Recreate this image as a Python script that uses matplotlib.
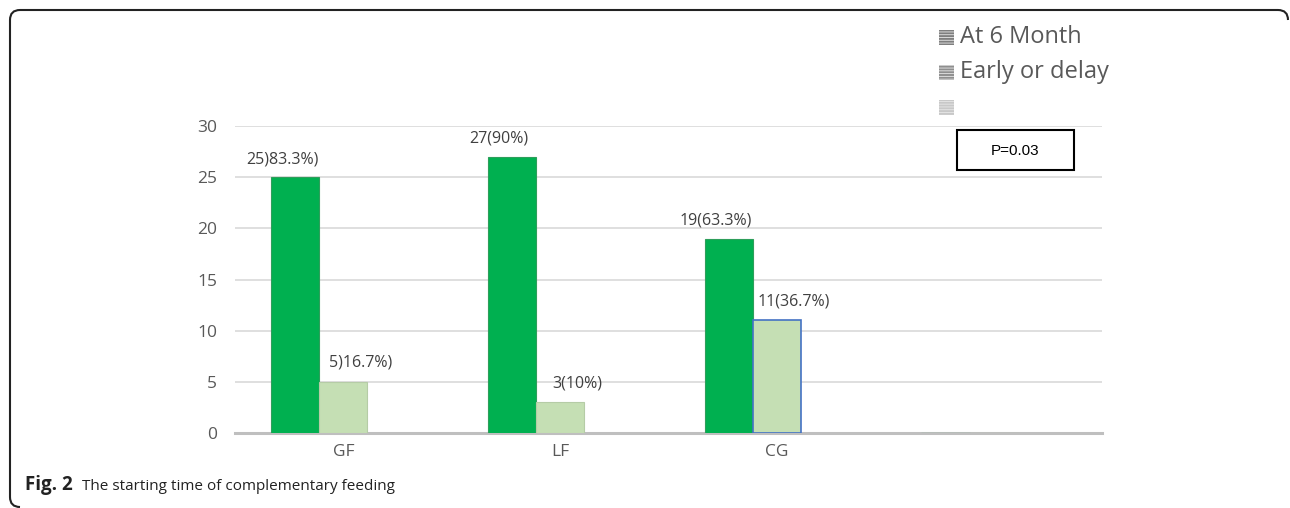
import matplotlib
matplotlib.use('Agg')
import matplotlib.pyplot as plt
import matplotlib.patches as mpatches
from matplotlib.path import Path
import numpy as np

plt.rcParams['font.family'] = ['Open Sans', 'DejaVu Sans']
plt.rcParams['hatch.linewidth'] = 0.6

categories = ['GF', 'LF', 'CG', '']
at_6_month = [25, 27, 19, 0]
early_or_delay = [5, 3, 11, 0]
third_series = [0, 0, 0, 0]
labels_6 = ['25)83.3%)', '27(90%)', '19(63.3%)']
labels_ed = ['5)16.7%)', '3(10%)', '11(36.7%)']
legend_names = ['At 6 Month', 'Early or delay', '']
p_text = 'P=0.03'

W, H = 1290, 508
fig = plt.figure(figsize=(W / 100, H / 100), dpi=100)

ax = fig.add_axes([235 / W, 1 - 433 / H, 867 / W, (433 - 126) / H])
x = np.arange(len(categories))
w = 0.222

green = '#00B050'
light = '#C5DFB4'
b1 = ax.bar(x - w, at_6_month, w, color=green, edgecolor='#2E9E5B', linewidth=0.8, zorder=3)
b2 = ax.bar(x, early_or_delay, w, color=light, edgecolor='#B5CCA6', linewidth=0.8, zorder=3)
ax.bar(x + w, third_series, w, color='none', zorder=3)
# CG bar has a blue outline in the source
b2[2].set_edgecolor('#4472C4')
b2[2].set_linewidth(1.2)

# labels were nudged sideways in the original
for i, t in enumerate(labels_6):
    ax.annotate(t, (x[i] - w, at_6_month[i]), xytext=(-13, 10), textcoords='offset pixels',
                ha='center', va='bottom', fontsize=11.5, color='#404040')
for i, t in enumerate(labels_ed):
    ax.annotate(t, (x[i], early_or_delay[i]), xytext=(17, 11), textcoords='offset pixels',
                ha='center', va='bottom', fontsize=11.5, color='#404040')

ax.set_xlim(-0.5, len(categories) - 0.5)
ax.set_ylim(0, 30)
ax.set_yticks(range(0, 31, 5))
ax.set_xticks(x)
ax.set_xticklabels(categories)
ax.yaxis.grid(True, color='#D9D9D9', linewidth=1.2, zorder=0)
ax.set_axisbelow(True)
for s in ['top', 'right', 'left']:
    ax.spines[s].set_visible(False)
ax.spines['bottom'].set_color('#BFBFBF')
ax.spines['bottom'].set_linewidth(2.2)
ax.tick_params(axis='both', length=0, labelsize=12.5, colors='#595959')
ax.tick_params(axis='y', pad=13)
ax.tick_params(axis='x', pad=8)

# overlay in pixel coords for legend, p-value box, border and caption
ov = fig.add_axes([0, 0, 1, 1], zorder=5)
ov.set_xlim(0, W)
ov.set_ylim(H, 0)
ov.axis('off')
ov.patch.set_alpha(0)

leg_colors = ['#7F7F7F', '#8F8F8F', '#C8C8C8']
for i, (name, c) in enumerate(zip(legend_names, leg_colors)):
    yc = 37 + i * 35
    ov.add_patch(mpatches.Rectangle((939, yc - 7.5), 15, 15, facecolor=c, edgecolor='#E8E8E8',
                                    hatch='------', linewidth=0))
    ov.text(960, yc, name, fontsize=17, color='#595959', va='center', ha='left')

ov.add_patch(mpatches.Rectangle((957, 130), 117, 40, facecolor='white', edgecolor='black',
                                linewidth=1.5))
ov.text(1015.5, 151, p_text, fontsize=11, ha='center', va='center', color='black',
        family='Liberation Sans')

# rounded frame (top and left sides)
verts = [(1288, 20), (1288, 10), (1278, 10), (20, 10), (10, 10), (10, 20),
         (10, 497), (10, 507), (20, 507)]
codes = [Path.MOVETO, Path.CURVE3, Path.CURVE3, Path.LINETO, Path.CURVE3, Path.CURVE3,
         Path.LINETO, Path.CURVE3, Path.CURVE3]
ov.add_patch(mpatches.PathPatch(Path(verts, codes), facecolor='none', edgecolor='#222222',
                                linewidth=1.5))

ov.text(25, 485, 'Fig. 2', fontsize=13.5, fontweight='bold', ha='left', va='center', color='#222222')
ov.text(82, 486, 'The starting time of complementary feeding', fontsize=11, ha='left',
        va='center', color='#222222')

fig.savefig('out.png', dpi=100)
